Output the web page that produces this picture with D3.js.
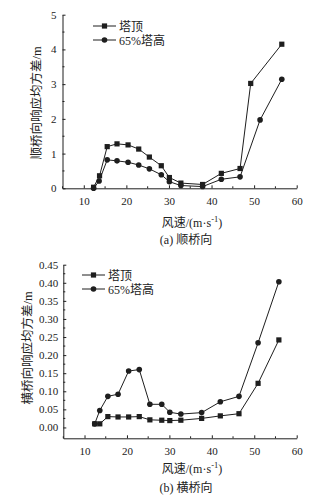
<!DOCTYPE html>
<html>
<head>
  <meta charset="utf-8">
  <title>风速-响应均方差</title>
  <script src="https://d3js.org/d3.v7.min.js"></script>
  <style>
    body { margin: 0; background: #fff; }
    svg text { font-family: "Liberation Serif", "Noto Sans CJK SC", serif; fill: #222; }
  </style>
</head>
<body>
  <svg id="chart" width="332" height="499"></svg>

  <script>
    // series names
    let seriesNames = ["塔顶", "65%塔高"];

    // (a) along-bridge
    let speedA1 = [12.3, 13.7, 15.5, 17.8, 20.4, 22.9, 25.4, 28.2, 30.1, 32.8, 37.9, 42.3, 46.7, 49.2, 56.5];
    let topA = [0.03, 0.36, 1.2, 1.28, 1.25, 1.13, 0.9, 0.65, 0.31, 0.15, 0.11, 0.43, 0.57, 3.02, 4.15];
    let speedA2 = [12.3, 13.6, 15.5, 17.8, 20.4, 22.9, 25.4, 28.2, 30.1, 32.8, 37.9, 42.3, 46.7, 51.4, 56.5];
    let midA = [0.0, 0.21, 0.82, 0.79, 0.75, 0.67, 0.56, 0.39, 0.19, 0.08, 0.05, 0.26, 0.33, 1.97, 3.14];

    // (b) cross-bridge
    let speedB = [12.4, 13.6, 15.5, 17.9, 20.4, 22.9, 25.4, 28.2, 30.1, 32.7, 37.6, 42.0, 46.4, 50.9, 55.8];
    let topB = [0.01, 0.01, 0.03, 0.029, 0.029, 0.03, 0.021, 0.02, 0.019, 0.02, 0.025, 0.032, 0.038, 0.122, 0.242];
    let midB = [0.01, 0.047, 0.086, 0.092, 0.156, 0.16, 0.064, 0.064, 0.042, 0.037, 0.041, 0.071, 0.086, 0.234, 0.403];

    let xTicks = [10, 20, 30, 40, 50, 60];
    let yTicksA = [0, 1, 2, 3, 4, 5];
    let yTicksB = [0, 0.05, 0.1, 0.15, 0.2, 0.25, 0.3, 0.35, 0.4, 0.45];

    let svg = d3.select("#chart");
    let ink = "#1e1e1e";

    function drawPanel(opt) {
      let g = svg.append("g");
      let x = d3.scaleLinear().domain([5, 60]).range([opt.left, 296.7]);
      let y = d3.scaleLinear().domain(opt.yDomain).range([opt.bottom, opt.top]);

      // x axis, ticks inward
      let xAxis = g.append("g")
        .attr("transform", "translate(0," + opt.bottom + ")")
        .call(d3.axisBottom(x).tickValues(xTicks).tickSizeInner(-3).tickSizeOuter(0).tickPadding(9));
      xAxis.select(".domain").attr("stroke", ink);
      xAxis.selectAll(".tick line").attr("stroke", ink);
      xAxis.selectAll("text").style("font-size", "11px").attr("fill", "#222");
      // minor x ticks
      g.append("g").selectAll("line")
        .data(d3.range(5, 60, 10))
        .enter().append("line")
        .attr("x1", d => x(d)).attr("x2", d => x(d))
        .attr("y1", opt.bottom).attr("y2", opt.bottom - 2)
        .attr("stroke", ink);

      // y axis, ticks inward
      let yAxis = g.append("g")
        .attr("transform", "translate(" + opt.left + ",0)")
        .call(d3.axisLeft(y).tickValues(opt.yTicks).tickFormat(opt.fmt)
          .tickSizeInner(-3).tickSizeOuter(0).tickPadding(opt.yPad));
      yAxis.select(".domain").attr("stroke", ink);
      yAxis.selectAll(".tick line").attr("stroke", ink);
      yAxis.selectAll("text").style("font-size", "11px").attr("fill", "#222");
      g.append("g").selectAll("line")
        .data(opt.yMinor)
        .enter().append("line")
        .attr("x1", opt.left).attr("x2", opt.left + 2)
        .attr("y1", d => y(d)).attr("y2", d => y(d))
        .attr("stroke", ink);

      // series
      let line = d3.line().x(d => x(d[0])).y(d => y(d[1]));
      opt.series.forEach(function(s, i) {
        let pts = s.xs.map((v, k) => [v, s.ys[k]]);
        g.append("path").datum(pts)
          .attr("d", line).attr("fill", "none")
          .attr("stroke", ink).attr("stroke-width", 1);
        if (i === 0) {
          g.selectAll(".sq" + opt.id).data(pts).enter().append("rect")
            .attr("x", d => x(d[0]) - 2.6).attr("y", d => y(d[1]) - 2.6)
            .attr("width", 5.2).attr("height", 5.2).attr("fill", ink);
        } else {
          g.selectAll(".ci" + opt.id).data(pts).enter().append("circle")
            .attr("cx", d => x(d[0])).attr("cy", d => y(d[1]))
            .attr("r", 2.8).attr("fill", ink);
        }
      });

      // legend
      seriesNames.forEach(function(name, i) {
        let ly = opt.legY + i * 14;
        g.append("line").attr("x1", opt.legX).attr("x2", opt.legX + 23)
          .attr("y1", ly).attr("y2", ly).attr("stroke", ink);
        if (i === 0) {
          g.append("rect").attr("x", opt.legX + 11.5 - 2.6).attr("y", ly - 2.6)
            .attr("width", 5.2).attr("height", 5.2).attr("fill", ink);
        } else {
          g.append("circle").attr("cx", opt.legX + 11.5).attr("cy", ly)
            .attr("r", 2.8).attr("fill", ink);
        }
        g.append("text").attr("x", opt.legX + 26).attr("y", ly + 4.5)
          .style("font-size", "12px").text(name);
      });

      // y axis title
      g.append("text")
        .attr("transform", "translate(" + opt.yTitleX + "," + opt.yTitleY + ") rotate(-90)")
        .attr("text-anchor", "middle")
        .style("font-size", "12.5px")
        .text(opt.yTitle);

      // x axis title
      let xt = g.append("text")
        .attr("x", 192).attr("y", opt.xTitleY)
        .attr("text-anchor", "middle")
        .style("font-size", "12px");
      xt.append("tspan").text("风速/(m·s");
      xt.append("tspan").attr("dy", -5).style("font-size", "8.5px").text("-1");
      xt.append("tspan").attr("dy", 5).text(")");

      // caption
      g.append("text")
        .attr("x", 186).attr("y", opt.capY)
        .attr("text-anchor", "middle")
        .style("font-size", "12px")
        .text(opt.caption);
    }

    drawPanel({
      id: "a", left: 62.5, top: 14.7, bottom: 188.3,
      yDomain: [0, 5], yTicks: yTicksA, fmt: d3.format("d"), yPad: 6,
      yMinor: [0.5, 1.5, 2.5, 3.5, 4.5],
      series: [{xs: speedA1, ys: topA}, {xs: speedA2, ys: midA}],
      legX: 93, legY: 26,
      yTitle: "顺桥向响应均方差/m", yTitleX: 41, yTitleY: 103,
      xTitleY: 227, caption: "(a) 顺桥向", capY: 244
    });

    drawPanel({
      id: "b", left: 63.3, top: 264.7, bottom: 438.3,
      yDomain: [-0.03, 0.45], yTicks: yTicksB, fmt: d3.format(".2f"), yPad: 5,
      yMinor: d3.range(0.025, 0.45, 0.05),
      series: [{xs: speedB, ys: topB}, {xs: speedB, ys: midB}],
      legX: 82, legY: 275,
      yTitle: "横桥向响应均方差/m", yTitleX: 32, yTitleY: 348,
      xTitleY: 473, caption: "(b) 横桥向", capY: 492
    });
  </script>
</body>
</html>
